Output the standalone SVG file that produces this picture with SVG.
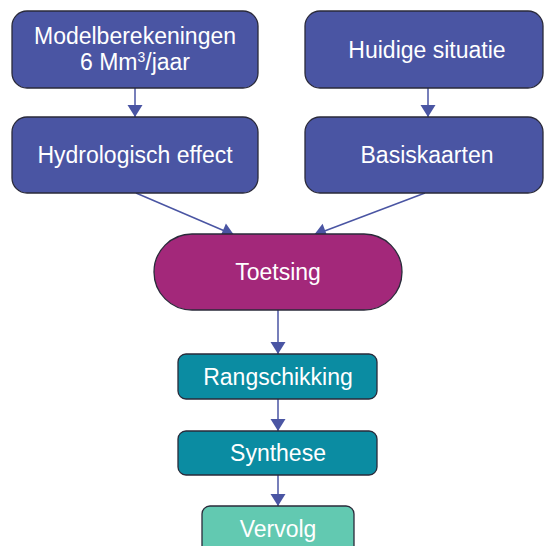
<svg xmlns="http://www.w3.org/2000/svg" width="544" height="546" viewBox="0 0 544 546">
<style>
.t{font-family:"Liberation Sans",Arial,sans-serif;font-size:23px;fill:#ffffff;text-anchor:middle}
.b{stroke:#2a2a3a;stroke-width:1.3}
.blue{fill:#4A55A3}
.mag{fill:#A3287A}
.teal{fill:#0B8CA2}
.mint{fill:#62C9B1}
.c{stroke:#4A55A3;stroke-width:1.5;fill:none}
</style>
<defs>
<marker id="ah" markerUnits="userSpaceOnUse" markerWidth="16" markerHeight="16" viewBox="0 0 16 16" refX="14" refY="8" orient="auto">
<path d="M2,0.5 L14,8 L2,15.5 Z" fill="#4A55A3"/>
</marker>
</defs>
<rect width="544" height="546" fill="#ffffff"/>
<g id="connectors">
<line class="c" x1="135" y1="88" x2="135" y2="117" marker-end="url(#ah)"/>
<line class="c" x1="428" y1="88" x2="428" y2="117" marker-end="url(#ah)"/>
<line class="c" x1="136" y1="193" x2="234" y2="235" marker-end="url(#ah)"/>
<line class="c" x1="425" y1="193" x2="314" y2="235" marker-end="url(#ah)"/>
<line class="c" x1="278" y1="310" x2="278" y2="354" marker-end="url(#ah)"/>
<line class="c" x1="278" y1="399" x2="278" y2="431" marker-end="url(#ah)"/>
<line class="c" x1="278" y1="475" x2="278" y2="506" marker-end="url(#ah)"/>
</g>
<g id="modelberekeningen">
<rect class="b blue" x="12" y="11" width="246" height="77" rx="15"/>
<text class="t" x="135" y="44">Modelberekeningen</text>
<text class="t" x="135" y="70">6 Mm<tspan font-size="14" dy="-8">3</tspan><tspan dy="8">/jaar</tspan></text>
</g>
<g id="huidige">
<rect class="b blue" x="305" y="11" width="238" height="77" rx="15"/>
<text class="t" x="427" y="58">Huidige situatie</text>
</g>
<g id="hydrologisch">
<rect class="b blue" x="12" y="117" width="246" height="76" rx="15"/>
<text class="t" x="135" y="163">Hydrologisch effect</text>
</g>
<g id="basiskaarten">
<rect class="b blue" x="305" y="117" width="238" height="76" rx="15"/>
<text class="t" x="427" y="163">Basiskaarten</text>
</g>
<g id="toetsing">
<rect class="b mag" x="154" y="234" width="248" height="76" rx="38"/>
<text class="t" x="278" y="280">Toetsing</text>
</g>
<g id="rangschikking">
<rect class="b teal" x="178" y="354" width="199" height="45" rx="8"/>
<text class="t" x="278" y="385">Rangschikking</text>
</g>
<g id="synthese">
<rect class="b teal" x="178" y="431" width="199" height="44" rx="8"/>
<text class="t" x="278" y="461">Synthese</text>
</g>
<g id="vervolg">
<rect class="b mint" x="202" y="506" width="152" height="50" rx="8"/>
<text class="t" x="278" y="537">Vervolg</text>
</g>
</svg>
